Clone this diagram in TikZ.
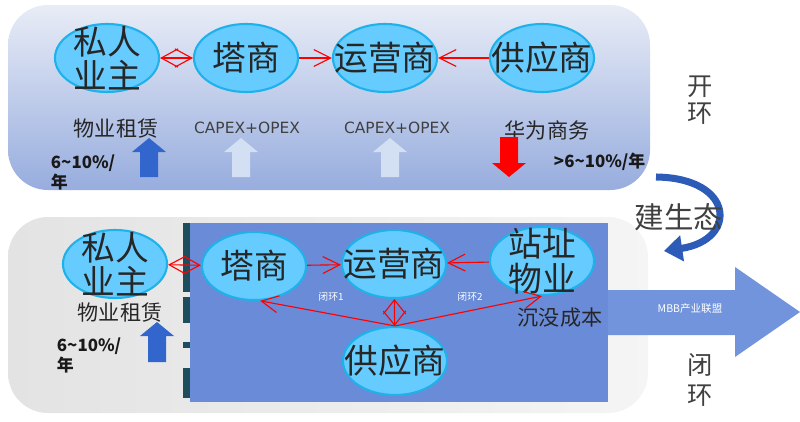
\documentclass[tikz,border=0pt]{standalone}
\usepackage{fontspec}
\setmainfont{Noto Sans CJK SC}
\newfontfamily\widelatin{DejaVu Sans}
\usepackage{tikz}
\usetikzlibrary{arrows.meta}
\usetikzlibrary{shapes.geometric}

\definecolor{bubble}{HTML}{66CCFF}
\definecolor{rim}{HTML}{1FB2EA}
\definecolor{paneltop}{HTML}{E8ECF6}
\definecolor{panelbot}{HTML}{97ADDE}
\definecolor{field}{HTML}{6A8BD8}
\definecolor{bigarrow}{HTML}{6D91DC}
\definecolor{upblue}{HTML}{3366CC}
\definecolor{uppale}{HTML}{D3DFF2}
\definecolor{curl}{HTML}{2D5CB8}
\definecolor{bar}{HTML}{1E4E5B}

% block arrow: x, tip y, head base y, tail y, colour
\newcommand{\blockarrow}[5]{%
  \fill[#5] (#1-9,#4) -- (#1-9,#3) -- (#1-17,#3) -- (#1,#2) -- (#1+17,#3) -- (#1+9,#3) -- (#1+9,#4) -- cycle;}

\tikzset{
  ptext/.style={align=center, text=black!85, inner sep=0pt, font=\fontsize{24}{24.5}\selectfont},
  party/.style={ellipse, draw=rim, line width=1.5pt, fill=bubble, inner sep=0pt,
    minimum width=2.6cm, minimum height=1.7cm, label={[ptext]center:#1}},
  link/.style={red, line width=0.8pt, -{Straight Barb[length=12pt,width=12pt]}},
  dia/.style 2 args={red, line width=0.8pt,
    {Straight Barb[length=#1,width=#2]}-{Straight Barb[length=#1,width=#2]}},
  lbl/.style={font=\fontsize{15}{17}\selectfont, text=black!85},
  capex/.style={font=\widelatin\fontsize{11}{12}\selectfont, text=black!75},
  pct/.style={font=\bfseries\fontsize{12}{14}\selectfont, align=left, text=black!90},
  side/.style={font=\fontsize{18}{19.5}\selectfont, align=center, text=black!75},
  tiny/.style={text=white, font=\fontsize{7}{8}\selectfont},
}

\begin{document}
\begin{tikzpicture}[x=0.025cm,y=-0.025cm]
     \useasboundingbox (0,0) rectangle (800,421);

     % open loop panel
     \shade[top color=paneltop, bottom color=panelbot, rounded corners=1cm] (8,5) rectangle (650,190);

     % closed loop panel
     \shade[left color=gray!22, right color=gray!8, rounded corners=1cm] (8,217) rectangle (648,413);
     \fill[field] (190,223) rectangle (608,402);
     \foreach \a/\b in {223/292, 297/323, 342/348, 368/398}
        \fill[bar] (183,\a) rectangle (190,\b);

     % MBB arrow
     \fill[bigarrow, opacity=0.97] (608,290) -- (735,290) -- (735,267) -- (800,312) -- (735,357) -- (735,335) -- (608,335) -- cycle;
     \node[tiny, font=\fontsize{7.5}{9}\selectfont] (mbb) at (690,309) {MBB产业联盟};

     % top row
     \node[party={私人\\业主}] (own1) at (107,58) {};
     \node[party={塔商}] (tow1) at (246,58) {};
     \node[party={运营商}] (opr1) at (385,58) {};
     \node[party={供应商}] (sup1) at (542,58) {};

     \draw[dia={12pt}{13pt}] (own1) -- (tow1);
     \draw[link] (tow1) -- (opr1);
     \draw[link] (sup1) -- (opr1);

     \node[lbl] (lease1) at (116,129) {物业租赁};
     \node[capex] (capex1) at (247,128) {CAPEX+OPEX};
     \node[capex] (capex2) at (397,128) {CAPEX+OPEX};
     \node[lbl] (huawei) at (547,130) {华为商务};

     \blockarrow{149}{138}{152}{177}{upblue}
     \blockarrow{241}{138}{152}{177}{uppale}
     \blockarrow{390}{138}{152}{177}{uppale}
     \blockarrow{509}{177}{163}{137}{red}

     \node[pct, anchor=north west] (rate1) at (46,150) {6\textasciitilde10\%/\\年};
     \node[pct, anchor=west] (rate2) at (549,162) {>6\textasciitilde10\%/年};

     \node[side] (openloop) at (700,100) {开\\环};

     % ecosystem arrow
     \draw[curl, line width=5pt, -{Triangle[length=13pt,width=18pt]}] (656,177) .. controls (735,178) and (738,240) .. (664,251);
     \node[side, font=\fontsize{21}{23}\selectfont] (eco) at (679,217) {建生态};

     % bottom row
     \node[party={私人\\业主}] (own2) at (115,264) {};
     \node[party={塔商}] (tow2) at (254,266) {};
     \node[party={运营商}] (opr2) at (394,264) {};
     \node[party={站址\\物业}] (site2) at (542,261) {};
     \node[party={供应商}] (sup2) at (395,361) {};

     \draw[dia={12pt}{13pt}] (own2) -- (tow2);
     \draw[link] (tow2) -- (opr2);
     \draw[link] (site2) -- (opr2);
     \draw[dia={10pt}{16pt}] (opr2) -- (sup2);
     \draw[link] (sup2.north) -- (tow2.-80);
     \draw[link] (sup2.north) -- (site2.south);

     \node[tiny] (loop1) at (331,297) {闭环1};
     \node[tiny] (loop2) at (470,297) {闭环2};
     \node[lbl] (sunk) at (560,318) {沉没成本};

     \node[lbl] (lease2) at (120,313) {物业租赁};
     \blockarrow{157}{322}{336}{362}{upblue}
     \node[pct, anchor=north west] (rate3) at (52,333) {6\textasciitilde10\%/\\年};

     \node[side, font=\fontsize{18}{22}\selectfont] (closeloop) at (700,380) {闭\\环};
\end{tikzpicture}
\end{document}
